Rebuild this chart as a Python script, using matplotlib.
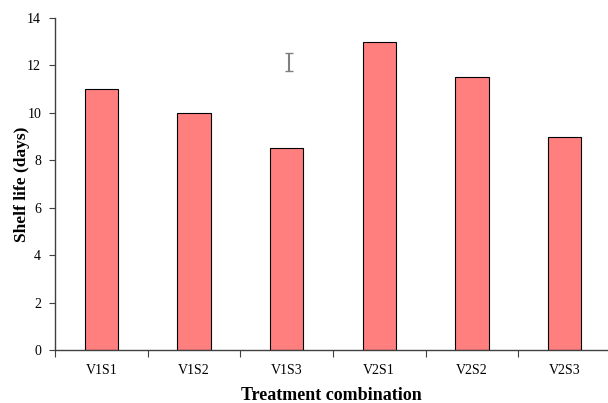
import matplotlib
matplotlib.use("Agg")
import matplotlib.pyplot as plt
import numpy as np

categories = ["V1S1", "V1S2", "V1S3", "V2S1", "V2S2", "V2S3"]
shelf_life = [11.0, 10.0, 8.5, 13.0, 11.5, 9.0]
y_ticks = [0, 2, 4, 6, 8, 10, 12, 14]
# standalone error bar (critical difference) drawn above V1S3
err_x_cat = 2
err_center = 12.15
err_half = 0.37

plt.rcParams['font.family'] = ['Liberation Serif', 'DejaVu Serif']

fig = plt.figure(figsize=(6.08, 4.03), dpi=100)
ax = fig.add_axes([0.0905, 0.1315, 0.9095, 0.8238])

x = np.arange(len(categories))
ax.bar(x, shelf_life, width=0.36, color="#FF7F7F", edgecolor="black", linewidth=0.8, zorder=2)

eb = ax.errorbar([err_x_cat + 0.03], [err_center], yerr=[err_half], fmt='none',
                 ecolor="#808080", elinewidth=1.5, capsize=3, capthick=1.0, zorder=3)
for cap in eb[1]:
    cap.set_color("black")

ax.set_xlim(-0.5, 5.47)
ax.set_ylim(0, 14)
ax.set_yticks(y_ticks)
ax.set_yticklabels([str(v) for v in y_ticks], fontsize=10)

ax.set_xticks(np.arange(-0.5, 5.5, 1.0))
ax.set_xticklabels([])
ax.set_xticks(x, minor=True)
ax.set_xticklabels(categories, minor=True, fontsize=10)
ax.tick_params(axis='x', which='minor', length=0, pad=10)
ax.tick_params(axis='x', which='major', length=5, direction='out', color="#404040")
ax.tick_params(axis='y', length=4, direction='out', color="#404040", pad=6)

for s in ['top', 'right']:
    ax.spines[s].set_visible(False)
for s in ['left', 'bottom']:
    ax.spines[s].set_color("#404040")
    ax.spines[s].set_linewidth(1.0)

ax.set_ylabel("Shelf life (days)", fontsize=12.5, fontweight='bold', labelpad=-2)
ax.set_xlabel("Treatment combination", fontsize=13, fontweight='bold', labelpad=7)

fig.savefig("out.png", dpi=100)
